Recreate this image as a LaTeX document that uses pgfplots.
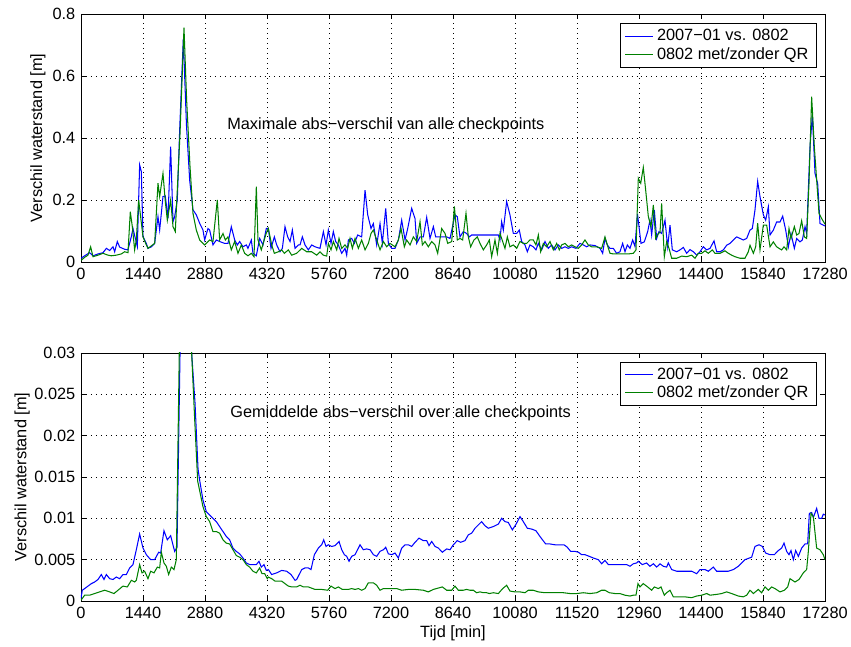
\documentclass[border=0pt]{standalone}
\usepackage{fontspec}
\setmainfont{Liberation Sans}
\usepackage{pgfplots}
\pgfplotsset{compat=1.18}
\definecolor{mblue}{rgb}{0,0,1}
\definecolor{mgreen}{rgb}{0,0.5,0}
\begin{document}
\fontsize{10.2}{12}\selectfont
\begin{tikzpicture}
\useasboundingbox (0pt,0pt) rectangle (531.875pt,404.375pt);
\pgfplotsset{
  mstyle/.style={
    scale only axis, width=465pt, height=155pt,
    xmin=0, xmax=17280,
    xtick={0,1440,2880,4320,5760,7200,8640,10080,11520,12960,14400,15840,17280},
    scaled x ticks=false, scaled y ticks=false,
    /pgf/number format/1000 sep={},
    /pgf/number format/fixed, /pgf/number format/precision=3,
    /pgf/number format/assume math mode=true,
    tick label style={font=\fontsize{10.2}{12}\selectfont},
    label style={font=\fontsize{10.2}{12}\selectfont},
    tick align=inside, xtick pos=both, ytick pos=both,
    major tick length=3pt,
    tick style={black, line width=0.5pt},
    axis line style={black, line width=0.6pt},
    grid=major,
    major grid style={black, line width=0.45pt, dash pattern=on 0.5pt off 2.6pt},
    ylabel={Verschil waterstand [m]},
    legend style={anchor=north east,
      draw, fill=white, font=\fontsize{10.2}{12}\selectfont,
      cells={anchor=west}, inner xsep=3pt, inner ysep=1.5pt, row sep=-1.5pt},
    legend image code/.code={\draw[#1, line width=0.7pt] (0pt,0pt) -- (17.5pt,0pt);},
    every axis plot/.append style={line width=0.65pt},
  }
}
\begin{axis}[mstyle, at={(50.625pt,240.625pt)}, anchor=south west,
  ymin=0, ymax=0.8, ytick={0,0.2,0.4,0.6,0.8},
  legend style={at={(rel axis cs:0.989,0.962)}},
  ylabel style={at={(axis description cs:-0.058,0.5)}, anchor=center}]
\addplot[mblue] coordinates {
(0,0.012)(85,0.020)(200,0.030)(280,0.020)(395,0.026)(510,0.030)(590,0.044)(665,0.037)(743,0.049)(782,0.033)(843,0.066)(898,0.048)(1014,0.041)(1091,0.039)(1169,0.082)(1207,0.108)(1262,0.076)(1308,0.050)(1362,0.313)(1401,0.292)(1440,0.082)(1517,0.060)(1556,0.044)(1633,0.049)(1711,0.060)(1788,0.146)(1827,0.103)(1904,0.211)(1958,0.213)(2020,0.141)(2082,0.372)(2137,0.130)(2175,0.146)(2237,0.200)(2290,0.42)(2376,0.72)(2450,0.44)(2524,0.264)(2601,0.168)(2678,0.152)(2756,0.125)(2833,0.103)(2872,0.071)(2949,0.108)(2988,0.103)(3065,0.055)(3143,0.071)(3220,0.066)(3336,0.060)(3414,0.060)(3491,0.114)(3569,0.071)(3631,0.055)(3685,0.066)(3762,0.049)(3840,0.055)(3878,0.044)(3956,0.071)(3994,0.028)(4072,0.020)(4149,0.076)(4227,0.055)(4304,0.108)
(4351,0.108)(4413,0.044)(4491,0.081)(4545,0.055)(4622,0.033)(4677,0.044)(4738,0.114)(4800,0.081)(4855,0.066)(4909,0.103)(4971,0.044)(5048,0.055)(5087,0.055)(5141,0.081)(5203,0.055)(5280,0.039)(5358,0.055)(5435,0.049)(5551,0.044)(5629,0.098)(5691,0.055)(5745,0.103)(5807,0.060)(5861,0.098)(5915,0.066)(5977,0.055)(6055,0.028)(6132,0.044)(6171,0.022)(6210,0.071)(6287,0.076)(6349,0.060)(6426,0.087)(6519,0.081)(6597,0.232)(6659,0.152)(6736,0.108)(6790,0.124)(6868,0.055)(6945,0.124)(6999,0.060)(7077,0.173)(7139,0.060)(7216,0.044)(7294,0.044)(7371,0.071)(7448,0.135)(7526,0.071)(7588,0.108)(7680,0.173)(7758,0.140)(7797,0.060)(7874,0.081)(7951,0.081)(8029,0.144)(8106,0.076)(8184,0.114)(8238,0.081)(8377,0.081)(8493,0.081)(8571,0.076)
(8686,0.152)(8740,0.146)(8802,0.081)(8880,0.098)(8957,0.092)(9019,0.081)(9073,0.087)(9189,0.087)(9344,0.087)(9499,0.087)(9693,0.087)(9731,0.071)(9770,0.130)(9809,0.103)(9886,0.195)(9963,0.152)(10041,0.092)(10118,0.092)(10180,0.103)(10234,0.066)(10312,0.055)(10366,0.033)(10428,0.055)(10505,0.049)(10567,0.039)(10622,0.060)(10699,0.039)(10777,0.066)(10854,0.044)(10931,0.055)(11009,0.039)(11086,0.055)(11164,0.044)(11241,0.049)(11318,0.044)(11396,0.049)(11496,0.044)(11589,0.060)(11667,0.055)(11744,0.049)(11822,0.055)(11938,0.053)(12054,0.044)(12116,0.028)(12170,0.076)(12224,0.055)(12286,0.044)(12364,0.044)(12441,0.028)(12518,0.033)(12580,0.060)(12635,0.033)(12689,0.055)(12751,0.044)(12813,0.071)(12867,0.050)(12925,0.155)(13006,0.060)
(13084,0.065)(13161,0.098)(13215,0.135)(13254,0.087)(13316,0.168)(13370,0.076)(13424,0.098)(13486,0.092)(13564,0.135)(13626,0.049)(13680,0.119)(13734,0.039)(13835,0.033)(13912,0.039)(13990,0.047)(14067,0.028)(14145,0.040)(14222,0.033)(14299,0.022)(14377,0.033)(14454,0.049)(14532,0.039)(14609,0.044)(14702,0.068)(14764,0.033)(14841,0.033)(14919,0.039)(14996,0.054)(15074,0.060)(15151,0.071)(15228,0.081)(15306,0.076)(15383,0.071)(15461,0.076)(15538,0.103)(15592,0.108)(15654,0.168)(15716,0.260)(15770,0.211)(15848,0.152)(15902,0.135)(15964,0.178)(16003,0.087)(16080,0.103)(16157,0.129)(16235,0.129)(16297,0.148)(16367,0.103)(16429,0.049)(16490,0.092)(16568,0.044)(16622,0.076)(16699,0.065)(16754,0.071)(16816,0.114)(16854,0.092)(16932,0.372)(16986,0.475)(17048,0.286)(17110,0.253)(17164,0.124)(17280,0.116)
};
\addlegendentry{2007−01 vs. 0802}
\addplot[mgreen] coordinates {
(0,0.005)(85,0.015)(162,0.022)(224,0.049)(278,0.017)(395,0.022)(510,0.028)(627,0.022)(704,0.020)(820,0.022)(936,0.026)(1014,0.033)(1091,0.030)(1145,0.162)(1192,0.114)(1246,0.039)(1285,0.071)(1339,0.200)(1440,0.081)(1517,0.055)(1556,0.044)(1633,0.052)(1711,0.060)(1788,0.254)(1827,0.211)(1904,0.286)(1958,0.195)(2005,0.135)(2082,0.200)(2137,0.114)(2190,0.098)(2300,0.415)(2392,0.756)(2454,0.52)(2531,0.31)(2601,0.157)(2678,0.103)(2756,0.071)(2872,0.055)(2988,0.071)(3065,0.066)(3166,0.200)(3220,0.071)(3298,0.092)(3352,0.071)(3414,0.081)(3491,0.039)(3569,0.066)(3646,0.028)(3724,0.055)(3801,0.028)(3878,0.020)(3956,0.028)(4018,0.017)(4072,0.243)(4111,0.071)(4188,0.039)(4266,0.076)(4300,0.092)(4351,0.108)
(4429,0.055)(4491,0.028)(4584,0.033)(4661,0.039)(4723,0.028)(4816,0.039)(4893,0.022)(5009,0.028)(5126,0.044)(5242,0.033)(5358,0.033)(5474,0.022)(5551,0.033)(5629,0.022)(5706,0.019)(5745,0.060)(5807,0.039)(5861,0.066)(5939,0.039)(5993,0.076)(6055,0.044)(6132,0.055)(6194,0.044)(6248,0.076)(6303,0.044)(6365,0.076)(6442,0.044)(6519,0.071)(6597,0.039)(6674,0.060)(6736,0.092)(6790,0.103)(6868,0.071)(6945,0.039)(7023,0.066)(7100,0.049)(7177,0.060)(7294,0.049)(7371,0.071)(7433,0.108)(7510,0.049)(7564,0.071)(7642,0.055)(7719,0.081)(7797,0.066)(7874,0.130)(7928,0.055)(7990,0.066)(8067,0.049)(8145,0.066)(8222,0.055)(8284,0.028)(8377,0.108)(8455,0.092)(8517,0.060)(8610,0.066)(8672,0.179)
(8740,0.071)(8802,0.076)(8864,0.071)(8942,0.157)(8996,0.081)(9050,0.049)(9127,0.071)(9205,0.081)(9267,0.060)(9344,0.039)(9422,0.055)(9484,0.071)(9538,0.017)(9615,0.071)(9670,0.028)(9731,0.092)(9793,0.066)(9847,0.044)(9902,0.081)(9963,0.049)(10041,0.055)(10118,0.044)(10196,0.066)(10273,0.060)(10350,0.060)(10428,0.071)(10505,0.071)(10567,0.055)(10622,0.087)(10676,0.033)(10738,0.060)(10815,0.049)(10893,0.066)(10970,0.039)(11048,0.060)(11109,0.039)(11164,0.055)(11241,0.060)(11318,0.049)(11396,0.055)(11473,0.049)(11551,0.044)(11628,0.055)(11705,0.071)(11783,0.055)(11860,0.049)(11977,0.049)(12093,0.044)(12170,0.081)(12224,0.055)(12286,0.028)(12364,0.026)(12480,0.026)(12596,0.026)(12712,0.026)(12828,0.028)(12890,0.039)(12944,0.270)
(13000,0.254)(13060,0.305)(13115,0.232)(13177,0.146)(13239,0.114)(13293,0.184)(13347,0.076)(13409,0.092)(13448,0.095)(13486,0.189)(13548,0.017)(13602,0.065)(13657,0.044)(13719,0.012)(13835,0.012)(13951,0.019)(14067,0.017)(14183,0.022)(14261,0.012)(14338,0.028)(14415,0.028)(14493,0.036)(14570,0.028)(14663,0.039)(14725,0.028)(14841,0.028)(14957,0.036)(15035,0.028)(15112,0.022)(15190,0.017)(15306,0.012)(15422,0.012)(15499,0.033)(15538,0.054)(15616,0.028)(15670,0.049)(15716,0.125)(15770,0.039)(15848,0.119)(15925,0.119)(16003,0.049)(16080,0.065)(16157,0.049)(16211,0.044)(16273,0.039)(16328,0.049)(16390,0.039)(16444,0.108)(16490,0.076)(16568,0.114)(16622,0.087)(16676,0.092)(16738,0.133)(16800,0.081)(16854,0.076)(16908,0.253)(16970,0.533)(17032,0.372)(17086,0.265)(17141,0.157)(17203,0.140)(17280,0.122)
};
\addlegendentry{0802 met/zonder QR}
\node[anchor=west, inner sep=0pt, font=\fontsize{10.2}{12}\selectfont] at (axis cs:3391,0.442) {Maximale abs−verschil van alle checkpoints};
\end{axis}

\begin{axis}[mstyle, at={(50.625pt,28.75pt)}, anchor=south west,
  ymin=0, ymax=0.03, ytick={0,0.005,0.01,0.015,0.02,0.025,0.03},
  legend style={at={(rel axis cs:0.989,0.964)}},
  ylabel style={at={(axis description cs:-0.079,0.5)}, anchor=center},
  xlabel={Tijd [min]},
  xlabel style={at={(axis description cs:0.5,-0.129)}, anchor=center}]
\addplot[mblue] coordinates {
(0,0.0003)(30,0.0013)(85,0.0015)(162,0.0018)(240,0.0021)(317,0.0023)(395,0.0026)(472,0.0032)(534,0.0026)(588,0.0032)(665,0.0027)(743,0.0026)(820,0.0029)(898,0.0027)(975,0.0032)(1053,0.0032)(1130,0.0040)(1207,0.0044)(1285,0.0062)(1362,0.0081)(1440,0.0064)(1517,0.0056)(1618,0.0050)(1711,0.0050)(1804,0.0059)(1850,0.0058)(1927,0.0085)(2005,0.0074)(2082,0.0079)(2175,0.0060)(2230,0.0065)(2330,0.040)(2420,0.045)(2520,0.036)(2570,0.030)(2648,0.024)(2718,0.016)(2756,0.0146)(2833,0.0122)(2911,0.0108)(2988,0.0104)(3065,0.0100)(3143,0.0096)(3220,0.0090)(3298,0.0084)(3375,0.0078)(3452,0.0074)(3530,0.0064)(3607,0.0060)(3685,0.0057)(3762,0.0052)(3840,0.0046)(3917,0.0044)(3994,0.0044)(4072,0.0044)(4134,0.0048)(4188,0.0041)(4250,0.0044)(4304,0.0037)
(4351,0.0038)(4429,0.0032)(4545,0.0034)(4661,0.0037)(4777,0.0036)(4878,0.0032)(4971,0.0025)(5009,0.0026)(5126,0.0038)(5203,0.0040)(5280,0.0040)(5342,0.0038)(5420,0.0056)(5513,0.0064)(5590,0.0068)(5637,0.0074)(5691,0.0066)(5745,0.0068)(5822,0.0066)(5900,0.0067)(5993,0.0072)(6055,0.0062)(6117,0.0056)(6171,0.0054)(6225,0.0048)(6287,0.0054)(6365,0.0056)(6481,0.0068)(6558,0.0062)(6635,0.0063)(6713,0.0062)(6790,0.0056)(6868,0.0054)(6945,0.0060)(7023,0.0062)(7077,0.0065)(7139,0.0057)(7216,0.0056)(7294,0.0058)(7371,0.0052)(7448,0.0064)(7526,0.0068)(7603,0.0068)(7680,0.0066)(7758,0.0071)(7851,0.0076)(7951,0.0073)(8029,0.0073)(8083,0.0067)(8145,0.0072)(8222,0.0066)(8300,0.0064)(8393,0.0059)(8493,0.0063)(8571,0.0062)
(8647,0.0068)(8740,0.0073)(8818,0.0071)(8918,0.0073)(8996,0.0080)(9073,0.0082)(9151,0.0088)(9228,0.0092)(9305,0.0096)(9383,0.0091)(9460,0.0088)(9576,0.0090)(9693,0.0093)(9770,0.0100)(9847,0.0096)(9925,0.0095)(10018,0.0086)(10095,0.0092)(10196,0.0102)(10273,0.0096)(10366,0.0088)(10467,0.0087)(10567,0.0085)(10660,0.0078)(10792,0.0069)(10893,0.0069)(11009,0.0068)(11125,0.0068)(11218,0.0068)(11295,0.0065)(11373,0.0060)(11473,0.0060)(11551,0.0059)(11628,0.0056)(11705,0.0056)(11806,0.0054)(11899,0.0052)(12015,0.0050)(12093,0.0045)(12170,0.0049)(12248,0.0044)(12364,0.0044)(12480,0.0044)(12596,0.0044)(12673,0.0044)(12751,0.0042)(12828,0.0045)(12905,0.0046)
(12944,0.0048)(13037,0.0044)(13138,0.0046)(13215,0.0042)(13293,0.0045)(13370,0.0041)(13448,0.0045)(13525,0.0042)(13602,0.0041)(13641,0.0046)(13719,0.0038)(13835,0.0036)(13951,0.0036)(14067,0.0036)(14183,0.0036)(14299,0.0033)(14377,0.0038)(14493,0.0038)(14570,0.0036)(14686,0.0041)(14764,0.0036)(14880,0.0036)(15035,0.0036)(15151,0.0038)(15267,0.0042)(15422,0.0050)(15577,0.0053)(15654,0.0066)(15747,0.0068)(15824,0.0066)(15902,0.0058)(16003,0.0056)(16103,0.0056)(16196,0.0061)(16273,0.0064)(16328,0.0070)(16390,0.0060)(16444,0.0056)(16490,0.0061)(16545,0.0050)(16599,0.0061)(16661,0.0054)(16738,0.0064)(16816,0.0069)(16877,0.0069)(16916,0.0106)(16970,0.0107)(17009,0.0101)(17086,0.0112)(17141,0.0100)(17203,0.0100)(17241,0.0105)(17280,0.0104)
};
\addlegendentry{2007−01 vs. 0802}
\addplot[mgreen] coordinates {
(0,0.0001)(85,0.0007)(200,0.0007)(317,0.0009)(433,0.0011)(549,0.0013)(665,0.0011)(766,0.0009)(859,0.0013)(975,0.0018)(1076,0.0017)(1169,0.0025)(1246,0.0023)(1285,0.0025)(1362,0.0044)(1417,0.0034)(1478,0.0036)(1556,0.0027)(1618,0.0036)(1695,0.0034)(1773,0.0041)(1827,0.0040)(1866,0.0059)(1927,0.0046)(1982,0.0042)(2036,0.0032)(2098,0.0041)(2160,0.0038)(2214,0.0050)(2310,0.040)(2420,0.046)(2520,0.036)(2570,0.030)(2640,0.022)(2710,0.0145)(2833,0.0114)(2911,0.0102)(2988,0.0096)(3065,0.0084)(3143,0.0084)(3220,0.0082)(3298,0.0074)(3375,0.0070)(3452,0.0069)(3530,0.0062)(3607,0.0055)(3685,0.0053)(3762,0.0050)(3840,0.0044)(3917,0.0041)(3994,0.0036)(4072,0.0034)(4149,0.0040)(4204,0.0033)(4266,0.0033)(4327,0.0027)
(4351,0.0029)(4429,0.0027)(4506,0.0024)(4661,0.0024)(4738,0.0021)(4816,0.0018)(4893,0.0017)(5009,0.0017)(5087,0.0019)(5164,0.0017)(5280,0.0017)(5435,0.0014)(5590,0.0014)(5730,0.0013)(5807,0.0018)(5900,0.0015)(5977,0.0017)(6070,0.0014)(6210,0.0014)(6287,0.0015)(6365,0.0014)(6442,0.0015)(6519,0.0013)(6597,0.0015)(6674,0.0022)(6790,0.0022)(6868,0.0019)(6945,0.0013)(7023,0.0015)(7139,0.0015)(7216,0.0015)(7332,0.0015)(7448,0.0013)(7604,0.0014)(7758,0.0014)(7951,0.0013)(8067,0.0011)(8184,0.0014)(8393,0.0017)(8493,0.0013)(8610,0.0013)
(8686,0.0018)(8764,0.0013)(8880,0.0013)(8957,0.0014)(9035,0.0013)(9112,0.0013)(9189,0.0010)(9267,0.0011)(9344,0.0010)(9422,0.0010)(9484,0.0009)(9576,0.0010)(9693,0.0009)(9793,0.0015)(9886,0.0019)(9963,0.0012)(10080,0.0011)(10196,0.0011)(10312,0.0010)(10389,0.0013)(10505,0.0013)(10622,0.0011)(10777,0.0010)(10893,0.0010)(11048,0.0010)(11203,0.0010)(11357,0.0009)(11512,0.0009)(11667,0.0010)(11822,0.0009)(11977,0.0010)(12093,0.0013)(12170,0.0013)(12271,0.0010)(12402,0.0009)(12518,0.0009)(12635,0.0007)(12751,0.0006)(12828,0.0007)(12890,0.0007)(12936,0.0021)
(12983,0.0017)(13060,0.0021)(13161,0.0017)(13254,0.0013)(13316,0.0017)(13409,0.0015)(13471,0.0017)(13548,0.0007)(13602,0.0010)(13680,0.0013)(13757,0.0005)(13874,0.0005)(14029,0.0005)(14183,0.0004)(14299,0.0006)(14415,0.0007)(14532,0.0009)(14609,0.0007)(14764,0.0008)(14880,0.0009)(14996,0.0011)(15112,0.0009)(15267,0.0006)(15383,0.0005)(15461,0.0007)(15538,0.0013)(15616,0.0009)(15731,0.0014)(15809,0.0010)(15886,0.0017)(15964,0.0013)(16041,0.0017)(16119,0.0015)(16235,0.0011)(16336,0.0013)(16413,0.0017)(16467,0.0027)(16583,0.0023)(16676,0.0026)(16777,0.0034)(16854,0.0038)(16893,0.0060)(16955,0.0106)(17009,0.0102)(17086,0.0064)(17164,0.0062)(17241,0.0056)(17280,0.0050)
};
\addlegendentry{0802 met/zonder QR}
\node[anchor=west, inner sep=0pt, font=\fontsize{10.2}{12}\selectfont] at (axis cs:3461,0.0227) {Gemiddelde abs−verschil over alle checkpoints};
\end{axis}
\end{tikzpicture}
\end{document}
